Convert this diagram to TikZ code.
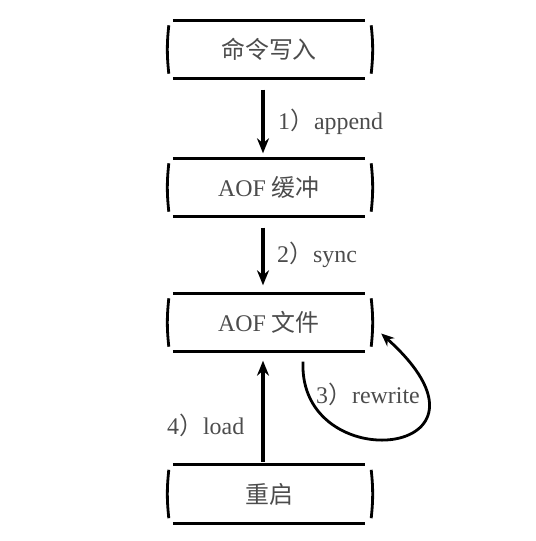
\documentclass[tikz,border=0pt]{standalone}
\usepackage{fontspec}
\setmainfont{Liberation Serif}
\newfontfamily\cjk{Noto Sans CJK SC}
\usetikzlibrary{arrows.meta}

\begin{document}
\begin{tikzpicture}[x=1bp,y=-1bp,
  stage/.style={minimum width=192bp,minimum height=58bp,inner sep=0pt,text=black!70,font=\fontsize{24}{28}\selectfont},
  steplabel/.style={anchor=west,inner sep=0pt,text=black!70,font=\fontsize{24}{28}\selectfont},
  rule/.style={line width=2.8bp,black},
  flow/.style={line width=3.2bp,black,-{Stealth[length=15bp,width=12bp]}}]
\useasboundingbox (0,0) rectangle (536,541);
% stages
\node[stage] (cmd) at (269,49.5) {\cjk 命令写入};
\node[stage] (buf) at (269,187.5) {AOF {\cjk 缓冲}};
\node[stage] (aof) at (269,322.5) {AOF {\cjk 文件}};
\node[stage] (boot) at (269,494) {\cjk 重启};
\foreach \n in {cmd,buf,aof,boot} {
  \draw[rule] (\n.north west) -- (\n.north east);
  \draw[rule] (\n.south west) -- (\n.south east);
  \draw[rule] ([xshift=-4bp,yshift=-5bp]\n.north west) to[bend right=6] ([xshift=-4bp,yshift=5bp]\n.south west);
  \draw[rule] ([xshift=6bp,yshift=-5bp]\n.north east) to[bend left=6] ([xshift=6bp,yshift=5bp]\n.south east);
}
% arrows
\draw[flow] ([xshift=-6bp,yshift=-11bp]cmd.south) -- ([xshift=-6bp,yshift=5bp]buf.north);
\draw[flow] ([xshift=-6bp,yshift=-11bp]buf.south) -- ([xshift=-6bp,yshift=8bp]aof.north);
\draw[flow] ([xshift=-6bp,yshift=3bp]boot.north) -- ([xshift=-6bp,yshift=-9bp]aof.south);
\draw[flow,-{Stealth[length=13bp,width=11bp]},line width=2.8bp] ([xshift=34bp,yshift=-10bp]aof.south) .. controls (298,480) and (520,458) .. ([xshift=16bp,yshift=-11bp]aof.east);
% labels
\node[steplabel] (l1) at (278,122) {1{\cjk ）}append};
\node[steplabel] (l2) at (277,255) {2{\cjk ）}sync};
\node[steplabel] (l3) at (316,394) {3{\cjk ）}rewrite};
\node[steplabel] (l4) at (167,425) {4{\cjk ）}load};
\end{tikzpicture}
\end{document}
